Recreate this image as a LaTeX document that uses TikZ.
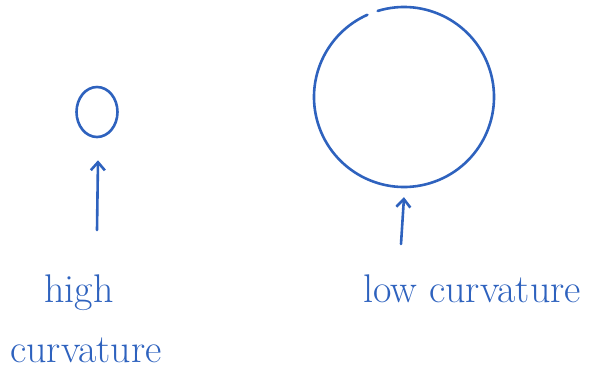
\documentclass[tikz,border=0pt]{standalone}
\usepackage{fontspec}
\setmainfont{Latin Modern Roman}
\usetikzlibrary{arrows.meta,shapes.geometric}
\definecolor{ink}{HTML}{2E62BE}
\begin{document}
\begin{tikzpicture}[x=1pt,y=-1pt,
  stroke/.style={draw=ink,line width=2.6pt,line cap=round,line join=round},
  pointer/.style={stroke,-{Straight Barb[length=8pt,width=14pt]}},
  lbl/.style={text=ink,font=\fontsize{40}{46}\selectfont,inner sep=0pt,anchor=base}]
\useasboundingbox (0,0) rectangle (605,370);
% small circle
\node[stroke,ellipse,minimum width=41pt,minimum height=50pt,inner sep=0pt] (small) at (97,112) {};
% big circle (drawn as arc with small gap at top)
\node[circle,minimum size=178pt,inner sep=0pt] (big) at (404,97) {};
\draw[stroke] ([shift={(-107:90)}]big.center) arc[start angle=-107,end angle=246,radius=90];
% labels
\node[lbl] (high) at (79,302) {high};
\node[lbl] (curv) at (86,362) {curvature};
\node[lbl] (low) at (472,302) {low curvature};
% arrows
\coordinate (a1) at (97,230);
\coordinate (a2) at (401,244);
\draw[pointer] (a1) -- ([xshift=1pt,yshift=-22pt]small.south);
\draw[pointer] (a2) -- ([yshift=-11pt]big.south);
\end{tikzpicture}
\end{document}
